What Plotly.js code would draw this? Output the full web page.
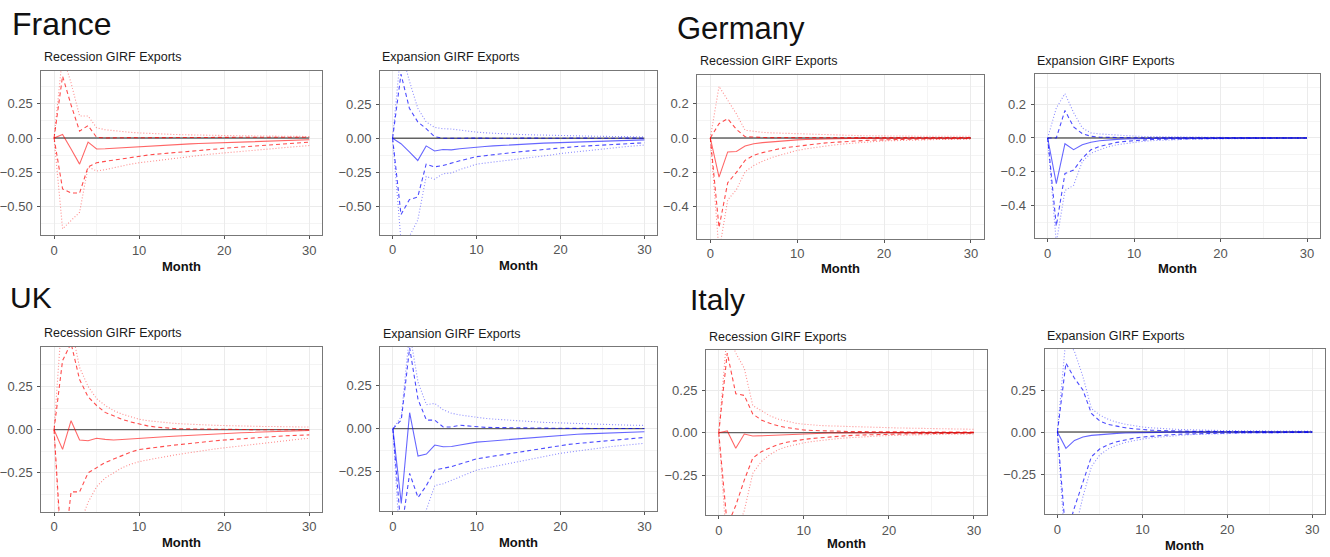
<!DOCTYPE html>
<html>
<head>
<meta charset="utf-8">
<script src="https://cdn.plot.ly/plotly-3.0.1.min.js"></script>
<style>html,body{margin:0;padding:0;background:#fff;}#chart{width:1330px;height:557px;}</style>
</head>
<body>
<div id="chart"></div>
<script>
// ---------------- DATA ----------------
const months = [0,1,2,3,4,5,6,7,8,9,10,11,12,13,14,15,16,17,18,19,20,21,22,23,24,25,26,27,28,29,30];
const countries = ["France", "Germany", "UK", "Italy"];
const panelTitles = ["Recession GIRF Exports", "Expansion GIRF Exports"];
const xLabel = "Month";

// France – recession
const fr_rec_mid  = [0,0.025,-0.08,-0.19,-0.03,-0.08,-0.078,-0.074,-0.07,-0.066,-0.062,-0.058,-0.055,-0.052,-0.049,-0.046,-0.043,-0.04,-0.038,-0.035,-0.033,-0.031,-0.029,-0.027,-0.025,-0.023,-0.021,-0.019,-0.017,-0.015,-0.013];
const fr_rec_up68 = [0,0.45,0.24,0.05,0.09,0.005,0.0,0.002,0.0,0.003,0.002,0.003,0.002,0.004,0.003,0.004,0.003,0.004,0.004,0.005,0.004,0.005,0.005,0.005,0.005,0.006,0.005,0.006,0.005,0.006,0.005];
const fr_rec_up90 = [0,0.6,0.4,0.16,0.16,0.075,0.06,0.052,0.046,0.041,0.037,0.033,0.03,0.028,0.026,0.024,0.022,0.021,0.02,0.019,0.018,0.017,0.016,0.015,0.014,0.014,0.013,0.012,0.012,0.011,0.011];
const fr_rec_lo68 = [0,-0.37,-0.4,-0.4,-0.21,-0.18,-0.17,-0.16,-0.15,-0.14,-0.13,-0.124,-0.118,-0.112,-0.106,-0.1,-0.095,-0.09,-0.085,-0.08,-0.075,-0.07,-0.065,-0.06,-0.055,-0.05,-0.046,-0.042,-0.038,-0.034,-0.03];
const fr_rec_lo90 = [0,-0.66,-0.6,-0.54,-0.21,-0.24,-0.23,-0.215,-0.2,-0.19,-0.18,-0.172,-0.164,-0.156,-0.148,-0.14,-0.133,-0.126,-0.12,-0.114,-0.108,-0.102,-0.096,-0.09,-0.085,-0.08,-0.075,-0.07,-0.065,-0.06,-0.055];

// France – expansion
const fr_exp_mid  = [0,-0.04,-0.1,-0.163,-0.056,-0.093,-0.082,-0.085,-0.077,-0.07,-0.064,-0.06,-0.056,-0.052,-0.048,-0.045,-0.042,-0.039,-0.036,-0.034,-0.032,-0.03,-0.028,-0.026,-0.024,-0.022,-0.02,-0.018,-0.016,-0.014,-0.012];
const fr_exp_up68 = [0,0.47,0.22,0.12,0.07,0.012,0.0,0.001,0.0,0.001,0.0,0.001,0.0,0.001,0.0,0.001,0.0,0.001,0.0,0.001,0.0,0.001,0.0,0.001,0.0,0.001,0.0,0.001,0.0,0.001,0.0];
const fr_exp_up90 = [0,0.65,0.42,0.22,0.12,0.08,0.07,0.068,0.06,0.05,0.045,0.04,0.036,0.033,0.03,0.028,0.026,0.024,0.022,0.02,0.019,0.018,0.017,0.016,0.015,0.014,0.013,0.012,0.012,0.011,0.01];
const fr_exp_lo68 = [0,-0.56,-0.45,-0.43,-0.19,-0.21,-0.2,-0.18,-0.165,-0.15,-0.135,-0.128,-0.12,-0.113,-0.106,-0.1,-0.094,-0.088,-0.082,-0.076,-0.068,-0.064,-0.06,-0.057,-0.054,-0.05,-0.047,-0.044,-0.04,-0.036,-0.033];
const fr_exp_lo90 = [0,-0.75,-0.72,-0.6,-0.28,-0.3,-0.26,-0.255,-0.23,-0.21,-0.19,-0.182,-0.175,-0.168,-0.16,-0.152,-0.145,-0.138,-0.13,-0.122,-0.112,-0.105,-0.098,-0.09,-0.083,-0.076,-0.07,-0.065,-0.06,-0.055,-0.05];

// Germany – recession
const de_rec_mid  = [0,-0.227,-0.081,-0.078,-0.047,-0.033,-0.027,-0.022,-0.018,-0.014,-0.011,-0.009,-0.007,-0.006,-0.005,-0.004,-0.003,-0.002,-0.002,-0.001,-0.001,-0.001,0,0,0,0,0,0,0,0,0];
const de_rec_up68 = [0,0.083,0.112,0.05,0.008,0.004,0.003,0.002,0.002,0.003,0.002,0.002,0.003,0.002,0.002,0.002,0.003,0.002,0.002,0.003,0.002,0.003,0.002,0.003,0.002,0.003,0.002,0.003,0.002,0.003,0.002];
const de_rec_up90 = [0,0.3,0.22,0.14,0.045,0.038,0.033,0.03,0.028,0.027,0.026,0.024,0.022,0.02,0.018,0.016,0.015,0.014,0.013,0.012,0.012,0.011,0.011,0.01,0.01,0.01,0.01,0.01,0.01,0.01,0.01];
const de_rec_lo68 = [0,-0.52,-0.26,-0.2,-0.13,-0.1,-0.085,-0.072,-0.062,-0.054,-0.047,-0.04,-0.035,-0.03,-0.026,-0.022,-0.019,-0.016,-0.014,-0.012,-0.01,-0.009,-0.008,-0.007,-0.006,-0.005,-0.005,-0.004,-0.004,-0.003,-0.003];
const de_rec_lo90 = [0,-0.66,-0.36,-0.3,-0.196,-0.16,-0.135,-0.115,-0.1,-0.085,-0.072,-0.063,-0.055,-0.048,-0.042,-0.036,-0.031,-0.027,-0.023,-0.02,-0.017,-0.015,-0.013,-0.012,-0.011,-0.01,-0.009,-0.008,-0.008,-0.007,-0.007];

// Germany – expansion
const de_exp_mid  = [0,-0.27,-0.034,-0.069,-0.04,-0.025,-0.016,-0.011,-0.008,-0.006,-0.004,-0.003,-0.002,-0.002,-0.001,-0.001,0,0,0,0,0,0,0,0,0,0,0,0,0,0,0];
const de_exp_up68 = [0,0.0,0.163,0.065,0.026,0.01,0.005,0.003,0.002,0.001,0.001,0.001,0.001,0.001,0,0.001,0,0.001,0,0.001,0,0.001,0,0,0.001,0,0,0,0,0,0];
const de_exp_up90 = [0,0.177,0.262,0.15,0.06,0.03,0.024,0.02,0.016,0.013,0.011,0.009,0.008,0.007,0.006,0.005,0.005,0.004,0.004,0.004,0.003,0.003,0.003,0.003,0.003,0.002,0.002,0.002,0.002,0.002,0.002];
const de_exp_lo68 = [0,-0.52,-0.21,-0.19,-0.12,-0.07,-0.05,-0.036,-0.026,-0.02,-0.015,-0.012,-0.009,-0.007,-0.006,-0.005,-0.004,-0.003,-0.003,-0.002,-0.002,-0.002,-0.001,-0.001,-0.001,-0.001,-0.001,-0.001,0,0,0];
const de_exp_lo90 = [0,-0.62,-0.31,-0.28,-0.14,-0.09,-0.07,-0.052,-0.04,-0.032,-0.025,-0.02,-0.016,-0.013,-0.011,-0.009,-0.008,-0.007,-0.006,-0.005,-0.005,-0.004,-0.004,-0.003,-0.003,-0.003,-0.002,-0.002,-0.002,-0.002,-0.002];

// UK – recession
const uk_rec_mid  = [0,-0.114,0.052,-0.06,-0.064,-0.05,-0.056,-0.06,-0.057,-0.053,-0.05,-0.047,-0.044,-0.041,-0.038,-0.035,-0.032,-0.03,-0.027,-0.025,-0.022,-0.02,-0.018,-0.016,-0.014,-0.012,-0.01,-0.009,-0.007,-0.006,-0.005];
const uk_rec_up68 = [0,0.4,0.5,0.29,0.19,0.14,0.1,0.08,0.06,0.045,0.032,0.022,0.015,0.01,0.007,0.005,0.004,0.003,0.002,0.002,0.001,0.001,0.001,0.001,0,0,0,0,0,0,0];
const uk_rec_up90 = [0,0.7,0.6,0.36,0.25,0.18,0.14,0.11,0.09,0.075,0.06,0.052,0.046,0.041,0.037,0.034,0.031,0.029,0.027,0.025,0.024,0.022,0.021,0.02,0.019,0.018,0.018,0.017,0.016,0.016,0.015];
const uk_rec_lo68 = [0,-0.8,-0.36,-0.36,-0.25,-0.22,-0.19,-0.17,-0.15,-0.13,-0.115,-0.108,-0.101,-0.095,-0.09,-0.085,-0.079,-0.074,-0.069,-0.064,-0.06,-0.056,-0.053,-0.05,-0.046,-0.042,-0.039,-0.036,-0.034,-0.032,-0.03];
const uk_rec_lo90 = [0,-0.9,-0.7,-0.55,-0.42,-0.33,-0.28,-0.25,-0.22,-0.2,-0.185,-0.175,-0.165,-0.156,-0.148,-0.14,-0.132,-0.125,-0.118,-0.111,-0.105,-0.099,-0.093,-0.087,-0.081,-0.075,-0.069,-0.064,-0.059,-0.054,-0.05];

// UK – expansion
const uk_exp_mid  = [0,-0.434,0.093,-0.159,-0.147,-0.095,-0.105,-0.103,-0.095,-0.086,-0.078,-0.074,-0.07,-0.066,-0.062,-0.058,-0.054,-0.05,-0.046,-0.041,-0.036,-0.034,-0.032,-0.03,-0.028,-0.025,-0.024,-0.022,-0.021,-0.019,-0.018];
const uk_exp_up68 = [0,0.05,0.47,0.17,0.05,0.05,0.01,0.01,0.02,0.015,0.01,0.008,0.007,0.006,0.005,0.004,0.004,0.003,0.003,0.002,0.002,0.002,0.002,0.001,0.001,0.001,0.001,0.001,0.001,0.001,0.001];
const uk_exp_up90 = [0,0.07,0.56,0.27,0.14,0.147,0.11,0.09,0.08,0.072,0.065,0.06,0.056,0.052,0.048,0.045,0.042,0.04,0.037,0.035,0.033,0.031,0.029,0.028,0.026,0.025,0.024,0.022,0.021,0.02,0.019];
const uk_exp_lo68 = [0,-0.6,-0.26,-0.4,-0.33,-0.24,-0.23,-0.22,-0.205,-0.19,-0.175,-0.167,-0.159,-0.151,-0.143,-0.135,-0.127,-0.119,-0.111,-0.104,-0.097,-0.091,-0.086,-0.081,-0.076,-0.071,-0.067,-0.063,-0.059,-0.055,-0.051];
const uk_exp_lo90 = [0,-0.8,-0.62,-0.55,-0.47,-0.33,-0.32,-0.3,-0.28,-0.26,-0.24,-0.23,-0.22,-0.21,-0.2,-0.19,-0.18,-0.17,-0.161,-0.152,-0.143,-0.136,-0.129,-0.122,-0.116,-0.11,-0.104,-0.099,-0.094,-0.089,-0.085];

// Italy – recession
const it_rec_mid  = [0,0.01,-0.092,-0.008,-0.02,-0.018,-0.015,-0.011,-0.008,-0.006,-0.005,-0.004,-0.003,-0.002,-0.002,-0.001,-0.001,-0.001,0,0,0,0,0,0,0,0,0,0,0,0,0];
const it_rec_up68 = [0,0.47,0.23,0.22,0.11,0.075,0.055,0.04,0.03,0.022,0.016,0.013,0.011,0.009,0.008,0.007,0.006,0.006,0.005,0.005,0.005,0.004,0.004,0.004,0.004,0.004,0.003,0.003,0.003,0.003,0.003];
const it_rec_up90 = [0,0.6,0.47,0.38,0.16,0.13,0.1,0.08,0.066,0.056,0.05,0.045,0.042,0.04,0.038,0.036,0.034,0.032,0.031,0.03,0.029,0.028,0.027,0.026,0.025,0.024,0.023,0.022,0.021,0.02,0.02];
const it_rec_lo68 = [0,-0.55,-0.43,-0.28,-0.15,-0.112,-0.09,-0.07,-0.057,-0.047,-0.04,-0.034,-0.029,-0.025,-0.021,-0.018,-0.015,-0.013,-0.011,-0.01,-0.009,-0.008,-0.007,-0.006,-0.006,-0.005,-0.005,-0.004,-0.004,-0.004,-0.003];
const it_rec_lo90 = [0,-0.7,-0.6,-0.46,-0.24,-0.17,-0.13,-0.1,-0.083,-0.07,-0.06,-0.052,-0.045,-0.04,-0.035,-0.031,-0.027,-0.024,-0.021,-0.019,-0.017,-0.015,-0.014,-0.013,-0.012,-0.011,-0.01,-0.009,-0.009,-0.008,-0.008];

// Italy – expansion
const it_exp_mid  = [0,-0.097,-0.05,-0.03,-0.02,-0.015,-0.01,-0.008,-0.006,-0.004,-0.003,-0.002,-0.002,-0.001,-0.001,0,0,0,0,0,0,0,0,0,0,0,0,0,0,0,0];
const it_exp_up68 = [0,0.41,0.32,0.25,0.11,0.065,0.045,0.033,0.025,0.019,0.014,0.011,0.009,0.007,0.006,0.005,0.004,0.004,0.003,0.003,0.003,0.002,0.002,0.002,0.002,0.002,0.001,0.001,0.001,0.001,0.001];
const it_exp_up90 = [0,0.56,0.48,0.33,0.14,0.1,0.075,0.058,0.046,0.037,0.03,0.025,0.021,0.018,0.016,0.014,0.012,0.011,0.01,0.009,0.008,0.008,0.007,0.007,0.006,0.006,0.006,0.005,0.005,0.005,0.005];
const it_exp_lo68 = [0,-0.62,-0.45,-0.305,-0.147,-0.1,-0.075,-0.058,-0.046,-0.037,-0.03,-0.025,-0.02,-0.017,-0.014,-0.012,-0.01,-0.009,-0.008,-0.007,-0.006,-0.005,-0.005,-0.004,-0.004,-0.003,-0.003,-0.003,-0.003,-0.002,-0.002];
const it_exp_lo90 = [0,-0.75,-0.6,-0.385,-0.206,-0.135,-0.1,-0.078,-0.062,-0.05,-0.042,-0.035,-0.03,-0.025,-0.021,-0.018,-0.015,-0.013,-0.011,-0.01,-0.009,-0.008,-0.007,-0.006,-0.006,-0.005,-0.005,-0.004,-0.004,-0.004,-0.004];

const zeroLine = [0,0,0,0,0,0,0,0,0,0,0,0,0,0,0,0,0,0,0,0,0,0,0,0,0,0,0,0,0,0,0];

// ---------------- LAYOUT / STYLE ----------------
const W = 1330, H = 557;
const FONT = "Liberation Sans, Arial, sans-serif";

// panel boxes in pixels [left, right, top, bottom], y range, tick step, tick format
const panels = [
  {series:[fr_rec_mid,fr_rec_up68,fr_rec_up90,fr_rec_lo68,fr_rec_lo90], rgb:"255,0,0", box:[41.3,322,71,235],   yr:[-0.705,0.487], dt:0.25, fmt:".2f", title:panelTitles[0], tp:[41.5,57],   mp:266.5},
  {series:[fr_exp_mid,fr_exp_up68,fr_exp_up90,fr_exp_lo68,fr_exp_lo90], rgb:"0,0,255", box:[380,657,71,234.7],   yr:[-0.707,0.493], dt:0.25, fmt:".2f", title:panelTitles[1], tp:[380,56.5],  mp:265.5},
  {series:[de_rec_mid,de_rec_up68,de_rec_up90,de_rec_lo68,de_rec_lo90], rgb:"255,0,0", box:[697.3,984,75,238.7], yr:[-0.585,0.366], dt:0.2,  fmt:".1f", title:panelTitles[0], tp:[698,60.5],  mp:268.5},
  {series:[de_exp_mid,de_exp_up68,de_exp_up90,de_exp_lo68,de_exp_lo90], rgb:"0,0,255", box:[1034.7,1320,74,238], yr:[-0.591,0.378], dt:0.2,  fmt:".1f", title:panelTitles[1], tp:[1035,60.5], mp:268.5},
  {series:[uk_rec_mid,uk_rec_up68,uk_rec_up90,uk_rec_lo68,uk_rec_lo90], rgb:"255,0,0", box:[41.3,322,346.7,511.7], yr:[-0.4745,0.48], dt:0.25, fmt:".2f", title:panelTitles[0], tp:[41.5,333], mp:542},
  {series:[uk_exp_mid,uk_exp_up68,uk_exp_up90,uk_exp_lo68,uk_exp_lo90], rgb:"0,0,255", box:[380.3,657,347,511.3], yr:[-0.48,0.475],  dt:0.25, fmt:".2f", title:panelTitles[1], tp:[380.5,333.5], mp:542},
  {series:[it_rec_mid,it_rec_up68,it_rec_up90,it_rec_lo68,it_rec_lo90], rgb:"255,0,0", box:[706,986.7,350,515],  yr:[-0.486,0.488], dt:0.25, fmt:".2f", title:panelTitles[0], tp:[706.5,337], mp:543.5},
  {series:[it_exp_mid,it_exp_up68,it_exp_up90,it_exp_lo68,it_exp_lo90], rgb:"0,0,255", box:[1044.7,1325,349,514], yr:[-0.488,0.494], dt:0.25, fmt:".2f", title:panelTitles[1], tp:[1045,336], mp:545.5}
];

// country headings: [text, left px, centre y px, size]
const headings = [
  [countries[0], 10, 24, 32],
  [countries[1], 675, 28, 31],
  [countries[2], 8, 297, 30],
  [countries[3], 688, 299, 30]
];

const traces = [];
const layout = {
  width: W, height: H,
  margin: {l:0, r:0, t:0, b:0},
  paper_bgcolor: "#ffffff", plot_bgcolor: "#ffffff",
  showlegend: false,
  font: {family: FONT},
  annotations: []
};

panels.forEach((p, i) => {
  const n = i + 1;
  const xa = n === 1 ? "x" : "x" + n;
  const ya = n === 1 ? "y" : "y" + n;
  const [l, r, t, b] = p.box;
  // zero reference line
  traces.push({x: months, y: zeroLine, xaxis: xa, yaxis: ya, type: "scatter", mode: "lines",
    line: {color: "rgba(40,40,40,0.7)", width: 1.3}, hoverinfo: "skip"});
  const styles = [
    {color: "rgba(" + p.rgb + ",0.6)",  width: 1.1, dash: "solid"},
    {color: "rgba(" + p.rgb + ",0.7)",  width: 1.1, dash: "4px,3px"},
    {color: "rgba(" + p.rgb + ",0.45)", width: 1.1, dash: "1px,2px"},
    {color: "rgba(" + p.rgb + ",0.7)",  width: 1.1, dash: "4px,3px"},
    {color: "rgba(" + p.rgb + ",0.45)", width: 1.1, dash: "1px,2px"}
  ];
  p.series.forEach((s, k) => {
    traces.push({x: months, y: s, xaxis: xa, yaxis: ya, type: "scatter", mode: "lines",
      line: styles[k], hoverinfo: "skip"});
  });
  const common = {
    showgrid: true, gridcolor: "#ebebeb", gridwidth: 1,
    zeroline: false, showline: true, mirror: true, linecolor: "#777777", linewidth: 1,
    ticks: "outside", ticklen: 3, tickcolor: "#555", tickwidth: 1,
    tickfont: {family: FONT, size: 13, color: "#555555"},
    fixedrange: true
  };
  layout[n === 1 ? "xaxis" : "xaxis" + n] = Object.assign({}, common, {
    domain: [l / W, r / W], anchor: ya, range: [-1.5, 31.5],
    tickmode: "linear", tick0: 0, dtick: 10,
    minor: {dtick: 5, showgrid: true, gridcolor: "#f4f4f4", gridwidth: 1, ticks: ""}
  });
  layout[n === 1 ? "yaxis" : "yaxis" + n] = Object.assign({}, common, {
    domain: [1 - b / H, 1 - t / H], anchor: xa, range: p.yr,
    tickmode: "linear", tick0: 0, dtick: p.dt, tickformat: p.fmt, ticklabelstandoff: 2,
    minor: {dtick: p.dt / 2, showgrid: true, gridcolor: "#f4f4f4", gridwidth: 1, ticks: ""}
  });
  // panel title
  layout.annotations.push({text: p.title, xref: "paper", yref: "paper",
    x: p.tp[0] / W, y: 1 - p.tp[1] / H, xanchor: "left", yanchor: "middle", showarrow: false,
    font: {family: FONT, size: 12.5, color: "#1a1a1a"}});
  // x axis label
  layout.annotations.push({text: "<b>" + xLabel + "</b>", xref: "paper", yref: "paper",
    x: ((l + r) / 2) / W, y: 1 - p.mp / H, xanchor: "center", yanchor: "middle", showarrow: false,
    font: {family: FONT, size: 13, color: "#111"}});
});

headings.forEach(h => {
  layout.annotations.push({text: h[0], xref: "paper", yref: "paper",
    x: h[1] / W, y: 1 - h[2] / H, xanchor: "left", yanchor: "middle", showarrow: false,
    font: {family: FONT, size: h[3], color: "#111"}});
});

Plotly.newPlot("chart", traces, layout, {displayModeBar: false, staticPlot: true});
</script>
</body>
</html>
